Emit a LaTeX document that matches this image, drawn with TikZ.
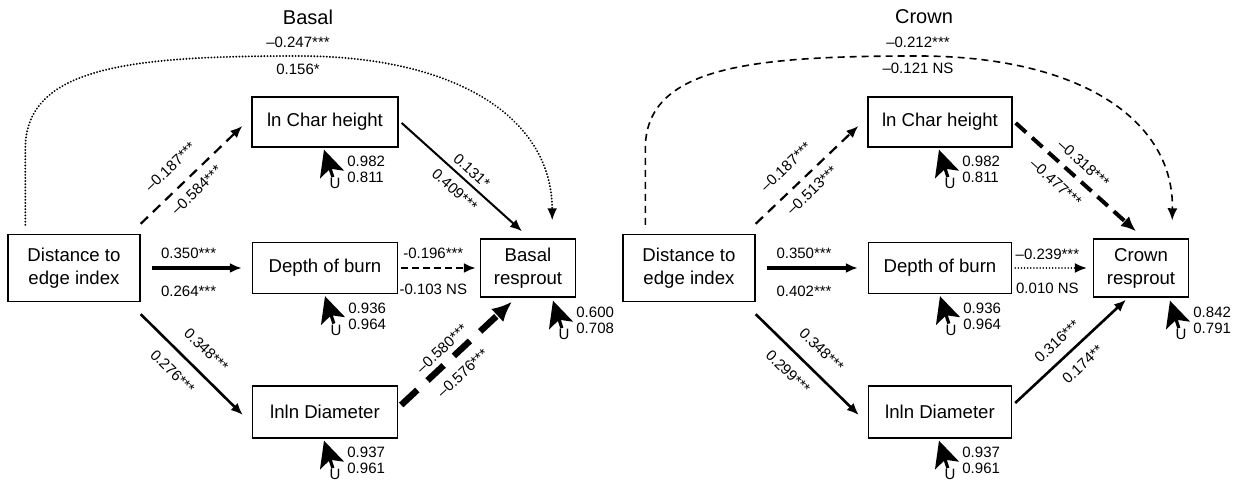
\documentclass[tikz,border=0pt]{standalone}
\usepackage{fontspec}
\setmainfont[Ligatures=TeX]{Liberation Sans}
\usepackage{tikz}
\usetikzlibrary{positioning,arrows.meta,calc}

\begin{document}
\begin{tikzpicture}[x=0.5pt, y=-0.5pt, font=\fontsize{7.5}{8}\selectfont,
  box/.style={draw, line width=0.7pt, align=center, inner sep=1pt,
    font=\fontsize{9.3}{11.5}\selectfont},
  ttl/.style={font=\fontsize{10}{12}\selectfont},
  coef/.style={inner sep=1pt, sloped},
  tip/.style={-{Latex[length=6pt, width=5pt]}},
  resid/.style={line width=1.6pt, -{Stealth[length=13pt, width=12.5pt, inset=3pt]}},
  rnum/.style={align=left, anchor=west, inner sep=0pt},
  dots/.style={line width=1.05pt, line cap=round, dash pattern=on 0.01pt off 1.55pt}]
\useasboundingbox (0,0) rectangle (1239,485);

% basal resprouting
\begin{scope}
  \node[ttl] (tB) at (308,17) {Basal};
  \node[box, minimum width=66pt, minimum height=33.5pt] (dist) at (74,268) {Distance to\\edge index};
  \node[box, minimum width=73pt, minimum height=25pt] (char) at (325,122) {ln Char height};
  \node[box, minimum width=72.5pt, minimum height=25.5pt] (depth) at (325,268) {Depth of burn};
  \node[box, minimum width=72.5pt, minimum height=26pt] (diam) at (325,412) {lnln Diameter};
  \node[box, minimum width=47.5pt, minimum height=29pt] (basal) at (528,268) {Basal\\resprout};

  \draw[dots, tip] ($(dist.north west)+(18,-9)$) -- ++(0,-76)
    .. controls +(0,-82) and (130,56) .. (298,56)
    node[above=0.5pt] (aB1) {--0.247***} node[below=0pt] (aB2) {0.156*}
    .. controls (460,56) and (552,120) .. ($(basal.north east)+(-24,-18)$);
  \draw[tip, line width=1.1pt, dash pattern=on 5pt off 3.5pt]
    ($(dist.north east)+(0,-10)$) -- ($(char.west)+(-9,4)$)
    node[coef, pos=0.43, above=6pt] (eB1) {--0.187***}
    node[coef, pos=0.45, below=3pt] (eB2) {--0.584***};
  \draw[tip, line width=1.8pt] ($(dist.east)+(11,0)$) -- ($(depth.west)+(-10,0)$)
    node[pos=0.41, above=0.5pt] (eB3) {0.350***}
    node[pos=0.41, below=5pt] (eB4) {0.264***};
  \draw[tip, line width=1.3pt] ($(dist.south east)+(0,12)$) -- ($(diam.west)+(-9,3)$)
    node[coef, pos=0.5, above=6pt] (eB5) {0.348***}
    node[coef, pos=0.44, below=5pt] (eB6) {0.276***};
  \draw[tip, line width=1pt] ($(char.east)+(3,1)$) -- ($(basal.north)+(-6,-7)$)
    node[coef, pos=0.52, above=1.5pt] (eB7) {0.131*}
    node[coef, pos=0.52, below=3pt] (eB8) {0.409***};
  \draw[tip, line width=1.2pt, dash pattern=on 3.5pt off 2pt]
    ($(depth.east)+(3,0)$) -- ($(basal.west)+(-4,0)$)
    node[pos=0.43, above=0.5pt] (eB9) {-0.196***}
    node[pos=0.43, below=4pt] (eB10) {-0.103 NS};
  \draw[-{Latex[length=10pt, width=9pt]}, line width=3.2pt, dash pattern=on 11pt off 7pt]
    ($(diam.east)+(3,-7)$) -- ($(basal.south)+(-16,4)$)
    node[coef, pos=0.45, above=1.5pt] (eB11) {--0.580***}
    node[coef, pos=0.44, below=4pt] (eB12) {--0.576***};

  \coordinate (pC) at ($(char.south)+(-1,2)$);
  \node[inner sep=0.5pt] (uC) at ($(pC)+(11,34)$) {U};
  \node[rnum] (nC) at ($(pC)+(23,20)$) {0.982\\0.811};
  \draw[resid] (uC) -- (pC);
  \coordinate (pD) at ($(depth.south)+(0,2)$);
  \node[inner sep=0.5pt] (uD) at ($(pD)+(11,34)$) {U};
  \node[rnum] (nD) at ($(pD)+(23,20)$) {0.936\\0.964};
  \draw[resid] (uD) -- (pD);
  \coordinate (pI) at ($(diam.south)+(-1,2)$);
  \node[inner sep=0.5pt] (uI) at ($(pI)+(11,34)$) {U};
  \node[rnum] (nI) at ($(pI)+(23,20)$) {0.937\\0.961};
  \draw[resid] (uI) -- (pI);
  \coordinate (pB) at ($(basal.south)+(25,3)$);
  \node[inner sep=0.5pt] (uB) at ($(pB)+(11,34)$) {U};
  \node[rnum] (nB) at ($(pB)+(23,20)$) {0.600\\0.708};
  \draw[resid] (uB) -- (pB);
\end{scope}

% crown resprouting
\begin{scope}[xshift=307.5pt]
  \node[ttl] (tC) at (309,17) {Crown};
  \node[box, minimum width=66pt, minimum height=33.5pt] (dist2) at (74,268) {Distance to\\edge index};
  \node[box, minimum width=72pt, minimum height=25pt] (char2) at (325,122) {ln Char height};
  \node[box, minimum width=71.5pt, minimum height=25.5pt] (depth2) at (325,268) {Depth of burn};
  \node[box, minimum width=71.5pt, minimum height=26pt] (diam2) at (325,412) {lnln Diameter};
  \node[box, minimum width=47.5pt, minimum height=29pt] (crown) at (526,268) {Crown\\resprout};

  \draw[tip, line width=0.8pt, dash pattern=on 3.5pt off 2.5pt] ($(dist2.north west)+(23,-9)$) -- ++(0,-76)
    .. controls +(0,-82) and (135,56) .. (303,56)
    node[above=0.5pt] (aC1) {--0.212***} node[below=0pt] (aC2) {--0.121 NS}
    .. controls (465,56) and (559,120) .. ($(crown.north east)+(-17,-18)$);
  \draw[tip, line width=1.1pt, dash pattern=on 5pt off 3.5pt]
    ($(dist2.north east)+(0,-10)$) -- ($(char2.west)+(-9,4)$)
    node[coef, pos=0.43, above=6pt] (eC1) {--0.187***}
    node[coef, pos=0.45, below=3pt] (eC2) {--0.513***};
  \draw[tip, line width=1.8pt] ($(dist2.east)+(11,0)$) -- ($(depth2.west)+(-10,0)$)
    node[pos=0.41, above=0.5pt] (eC3) {0.350***}
    node[pos=0.41, below=5pt] (eC4) {0.402***};
  \draw[tip, line width=1.3pt] ($(dist2.south east)+(0,12)$) -- ($(diam2.west)+(-9,3)$)
    node[coef, pos=0.5, above=6pt] (eC5) {0.348***}
    node[coef, pos=0.44, below=5pt] (eC6) {0.299***};
  \draw[-{Latex[length=7.5pt, width=6.5pt]}, line width=2pt, dash pattern=on 7pt off 4pt]
    ($(char2.east)+(3,1)$) -- ($(crown.north)+(-5,-7)$)
    node[coef, pos=0.48, above=3pt] (eC7) {--0.318***}
    node[coef, pos=0.43, below=4pt] (eC8) {--0.477***};
  \draw[tip, dots, line width=0.8pt] ($(depth2.east)+(3,0)$) -- ($(crown.west)+(-6,0)$)
    node[pos=0.45, above=0.5pt] (eC9) {--0.239***}
    node[pos=0.45, below=4pt] (eC10) {0.010 NS};
  \draw[tip, line width=1.3pt] ($(diam2.east)+(3,-9)$) -- ($(crown.south)+(-15,2)$)
    node[coef, pos=0.48, above=4pt] (eC11) {0.316***}
    node[coef, pos=0.5, below=4.5pt] (eC12) {0.174**};

  \coordinate (qC) at ($(char2.south)+(-1,2)$);
  \node[inner sep=0.5pt] (vC) at ($(qC)+(11,34)$) {U};
  \node[rnum] (mC) at ($(qC)+(23,20)$) {0.982\\0.811};
  \draw[resid] (vC) -- (qC);
  \coordinate (qD) at ($(depth2.south)+(0,2)$);
  \node[inner sep=0.5pt] (vD) at ($(qD)+(11,34)$) {U};
  \node[rnum] (mD) at ($(qD)+(23,20)$) {0.936\\0.964};
  \draw[resid] (vD) -- (qD);
  \coordinate (qI) at ($(diam2.south)+(-1,2)$);
  \node[inner sep=0.5pt] (vI) at ($(qI)+(11,34)$) {U};
  \node[rnum] (mI) at ($(qI)+(23,20)$) {0.937\\0.961};
  \draw[resid] (vI) -- (qI);
  \coordinate (qR) at ($(crown.south)+(29,3)$);
  \node[inner sep=0.5pt] (vR) at ($(qR)+(11,34)$) {U};
  \node[rnum] (mR) at ($(qR)+(23,20)$) {0.842\\0.791};
  \draw[resid] (vR) -- (qR);
\end{scope}
\end{tikzpicture}
\end{document}
